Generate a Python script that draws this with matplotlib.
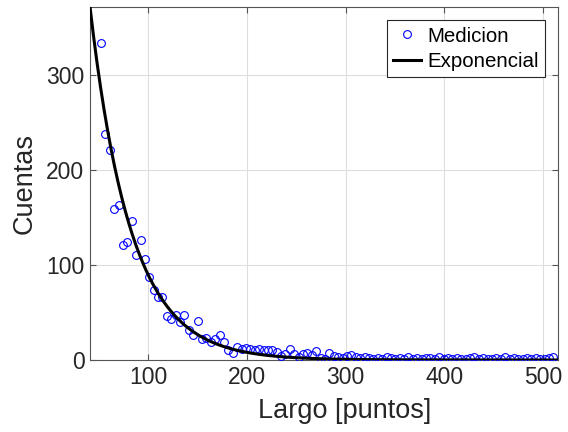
import numpy as np
import matplotlib
matplotlib.use("Agg")
import matplotlib.pyplot as plt

plt.rcParams['font.family'] = ['Liberation Sans', 'DejaVu Sans']

# bin centres of the length histogram (regular grid)
largo = np.linspace(52.4, 510.4, 104)
cuentas = [
    334, 238, 221, 159, 163, 121, 124, 147, 111, 126,
    106, 87, 74, 66, 66, 46, 43, 47, 40, 47,
    32, 26, 41, 22, 23, 19, 22, 26, 19, 10.5,
    7, 14, 11.6, 12.3, 11.6, 10.5, 11.6, 10.5, 10.5, 10.5,
    8.8, 4.2, 6.3, 11.2, 6.3, 2.8, 6.3, 7, 5.3, 9.5,
    1.8, 0.7, 7, 4.2, 2.8, 1.8, 4.2, 5.3, 2.8, 1.8,
    2.8, 1.8, 1, 2.4, 1, 3, 2, 1, 2, 1,
    3, 1, 2, 1, 2, 2, 1, 3, 1, 2,
    1, 2, 1, 1, 2, 3, 1, 2, 1, 1,
    2, 1, 3, 1, 2, 1, 1, 2, 1, 2,
    1, 1, 2, 3.5,
]

# exponential fit parameters
amp = 1009.0
tau = 41.4
x_fit = np.linspace(41.3, 515, 400)
y_fit = amp * np.exp(-x_fit / tau)

xticks = [100, 200, 300, 400, 500]
yticks = [0, 100, 200, 300]

fig = plt.figure(figsize=(5.68, 4.32), dpi=100)
ax = fig.add_axes([90/568, 72/432, 468/568, 353/432])

ax.plot(largo, cuentas, 'o', mfc='none', mec='#0000ff', ms=5.6, mew=0.8,
        label='Medicion', zorder=3)
ax.plot(x_fit, y_fit, '-', color='black', lw=2.2, label='Exponencial', zorder=4)

ax.set_xlim(41.3, 515)
ax.set_ylim(0, 372)
ax.set_xticks(xticks)
ax.set_yticks(yticks)
ax.grid(True, color='#dedede', lw=0.8)
ax.set_axisbelow(True)

tc = '#262626'
for s in ax.spines.values():
    s.set_color('#555555')
    s.set_linewidth(0.8)
ax.tick_params(direction='in', top=True, right=True, length=4, width=0.8,
               colors='#555555', labelcolor=tc, labelsize=16.5, pad=4)
ax.set_xlabel('Largo [puntos]', fontsize=19.5, color=tc, labelpad=5)
ax.xaxis.set_label_coords(0.545, -0.108)
ax.xaxis.label.set_verticalalignment('top')
ax.set_ylabel('Cuentas', fontsize=19.5, color=tc, labelpad=6)

leg = ax.legend(loc='upper right', fontsize=14.8, frameon=True, fancybox=False,
                edgecolor='#262626', framealpha=1, borderpad=0.3,
                handlelength=1.35, handletextpad=0.3, labelspacing=0.3,
                borderaxespad=0.65)
leg.get_frame().set_linewidth(0.8)
for t in leg.get_texts():
    t.set_color('black')

fig.savefig('out.png', dpi=100)
